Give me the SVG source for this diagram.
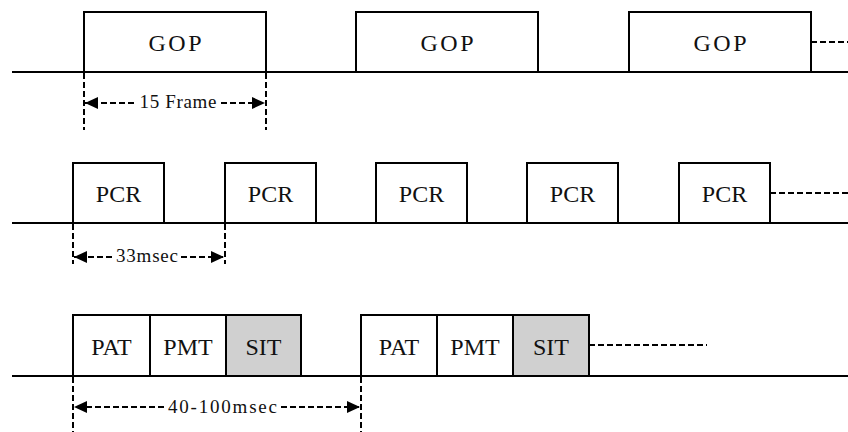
<svg xmlns="http://www.w3.org/2000/svg" width="848" height="432" viewBox="0 0 848 432">
  <style>
    .axis { stroke: #000; stroke-width: 2; fill: none; }
    .box { fill: #fff; stroke: #000; stroke-width: 2; }
    .box.grey { fill: #d0d0d0; }
    .dash { stroke: #000; stroke-width: 2; stroke-dasharray: 6 3; fill: none; }
    .lbl { font-size: 24px; fill: #111; text-anchor: middle; }
    .dim { font-size: 19px; fill: #111; text-anchor: middle; }
  </style>
  <defs>
    <marker id="arrow" markerUnits="userSpaceOnUse" markerWidth="15" markerHeight="15" refX="13" refY="7" orient="auto-start-reverse">
      <path d="M0,1 L13,7 L0,13 Z" fill="#000"/>
    </marker>
  </defs>

  <!-- time axes -->
  <g id="axes">
    <line class="axis" x1="12" y1="72" x2="848" y2="72"/>
    <line class="axis" x1="12" y1="223" x2="848" y2="223"/>
    <line class="axis" x1="12" y1="376" x2="848" y2="376"/>
  </g>

  <g font-family="Liberation Serif, Times New Roman, serif">
    <!-- row 1: GOP -->
    <g id="gop1"><rect class="box" x="84" y="12" width="182" height="60"/><text class="lbl" x="175" y="51" textLength="53">GOP</text></g>
    <g id="gop2"><rect class="box" x="356" y="12" width="182" height="60"/><text class="lbl" x="447" y="51" textLength="53">GOP</text></g>
    <g id="gop3"><rect class="box" x="629" y="12" width="182" height="60"/><text class="lbl" x="720" y="51" textLength="53">GOP</text></g>

    <!-- row 2: PCR -->
    <g id="pcr1"><rect class="box" x="73" y="163" width="91" height="60"/><text class="lbl" x="118.5" y="202">PCR</text></g>
    <g id="pcr2"><rect class="box" x="225" y="163" width="91" height="60"/><text class="lbl" x="270.5" y="202">PCR</text></g>
    <g id="pcr3"><rect class="box" x="376" y="163" width="91" height="60"/><text class="lbl" x="421.5" y="202">PCR</text></g>
    <g id="pcr4"><rect class="box" x="527" y="163" width="91" height="60"/><text class="lbl" x="572.5" y="202">PCR</text></g>
    <g id="pcr5"><rect class="box" x="679" y="163" width="91" height="60"/><text class="lbl" x="724.5" y="202">PCR</text></g>

    <!-- row 3: PAT / PMT / SIT -->
    <g id="pat1"><rect class="box" x="73" y="315" width="77" height="61"/><text class="lbl" x="111.5" y="355">PAT</text></g>
    <g id="pmt1"><rect class="box" x="150" y="315" width="76" height="61"/><text class="lbl" x="188" y="355">PMT</text></g>
    <g id="sit1"><rect class="box grey" x="226" y="315" width="75" height="61"/><text class="lbl" x="263.5" y="355">SIT</text></g>
    <g id="pat2"><rect class="box" x="361" y="315" width="76" height="61"/><text class="lbl" x="399" y="355">PAT</text></g>
    <g id="pmt2"><rect class="box" x="437" y="315" width="76" height="61"/><text class="lbl" x="475" y="355">PMT</text></g>
    <g id="sit2"><rect class="box grey" x="513" y="315" width="76" height="61"/><text class="lbl" x="551" y="355">SIT</text></g>
  </g>

  <!-- continuation and dimension connectors -->
  <g id="connectors">
    <line class="dash" x1="811" y1="42" x2="848" y2="42"/>
    <line class="dash" x1="770" y1="193" x2="848" y2="193"/>
    <line class="dash" x1="589" y1="345" x2="707" y2="345"/>

    <line class="dash" x1="84" y1="73" x2="84" y2="130"/>
    <line class="dash" x1="266" y1="73" x2="266" y2="130"/>
    <line class="dash" x1="134" y1="103" x2="85" y2="103" marker-end="url(#arrow)"/>
    <line class="dash" x1="221" y1="103" x2="265" y2="103" marker-end="url(#arrow)"/>

    <line class="dash" x1="73" y1="224" x2="73" y2="264"/>
    <line class="dash" x1="225" y1="224" x2="225" y2="264"/>
    <line class="dash" x1="112" y1="257" x2="74" y2="257" marker-end="url(#arrow)"/>
    <line class="dash" x1="181" y1="257" x2="224" y2="257" marker-end="url(#arrow)"/>

    <line class="dash" x1="73" y1="377" x2="73" y2="432"/>
    <line class="dash" x1="361" y1="377" x2="361" y2="432"/>
    <line class="dash" x1="164" y1="407" x2="74" y2="407" marker-end="url(#arrow)"/>
    <line class="dash" x1="281" y1="407" x2="360" y2="407" marker-end="url(#arrow)"/>
  </g>

  <!-- dimension labels -->
  <g id="dimension-labels" font-family="Liberation Serif, Times New Roman, serif">
    <text class="dim" x="178" y="108" textLength="77">15 Frame</text>
    <text class="dim" x="147" y="262" textLength="62">33msec</text>
    <text class="dim" x="222.5" y="413" textLength="109">40-100msec</text>
  </g>
</svg>
